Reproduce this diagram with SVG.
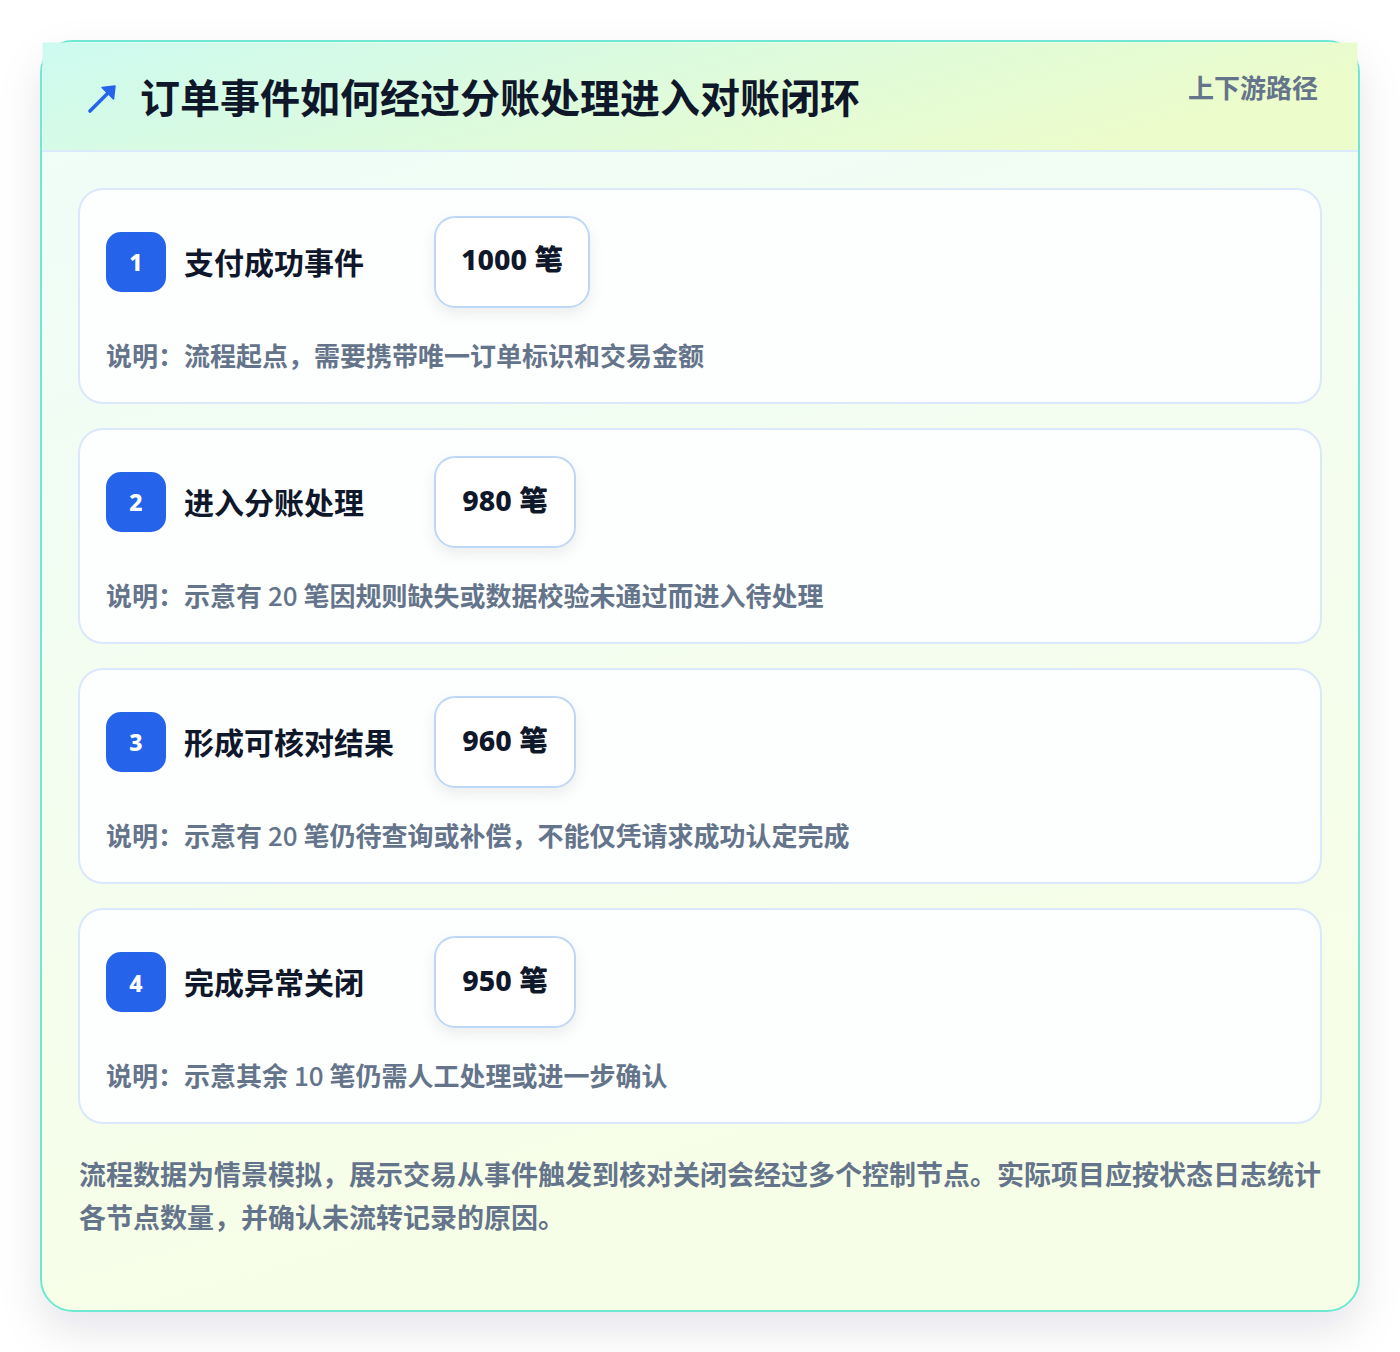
<svg xmlns="http://www.w3.org/2000/svg" width="1400" height="1352" viewBox="0 0 1400 1352">
<defs>
<linearGradient id="bodyG" x1="0" y1="0" x2="0.3" y2="1">
<stop offset="0" stop-color="#effdf9"/>
<stop offset="1" stop-color="#f7fee7"/>
</linearGradient>
<linearGradient id="headG" x1="0" y1="0" x2="1" y2="0.3">
<stop offset="0" stop-color="#cdfaf0"/>
<stop offset="1" stop-color="#ecfccb"/>
</linearGradient>
<filter id="outerSh" x="-10%" y="-10%" width="120%" height="125%">
<feDropShadow dx="0" dy="18" stdDeviation="20" flood-color="#0f172a" flood-opacity="0.10"/>
</filter>
<filter id="pillSh" x="-20%" y="-20%" width="140%" height="160%">
<feDropShadow dx="0" dy="6" stdDeviation="7" flood-color="#0f172a" flood-opacity="0.07"/>
</filter>
<style>
.card{fill:#fdfefe;stroke:#dbe8fb;stroke-width:2}
.badge{fill:#2563eb}
.bnum{font-family:"Noto Sans","Noto Sans CJK SC",sans-serif;font-weight:800;font-size:23px;fill:#ffffff;text-anchor:middle}
.title{font-family:"Noto Sans CJK SC",sans-serif;font-weight:700;font-size:30px;fill:#0f172a}
.pill{fill:#ffffff;stroke:#bfd7f7;stroke-width:2}
.ptxt{font-family:"Noto Sans","Noto Sans CJK SC",sans-serif;font-weight:800;font-size:28.5px;fill:#0f172a;text-anchor:middle}
.desc{font-family:"Noto Sans CJK SC",sans-serif;font-weight:700;font-size:26px;fill:#64748b}
.num{font-weight:500}
.foot{font-family:"Noto Sans CJK SC",sans-serif;font-weight:700;font-size:27px;fill:#64748b}
</style>
</defs>
<rect x="0" y="0" width="1400" height="1352" fill="#ffffff"/>
<g id="panel">
<rect x="41" y="41" width="1318" height="1270" rx="32" fill="url(#bodyG)" stroke="#6ee7d3" stroke-width="2" filter="url(#outerSh)"/>
<rect x="42.5" y="42.5" width="1315" height="108" fill="url(#headG)"/>
<line x1="42" y1="151" x2="1358" y2="151" stroke="#dbeafe" stroke-width="2"/>
<g id="icon">
<line x1="90" y1="111" x2="109" y2="92" stroke="#2563eb" stroke-width="3.6" stroke-linecap="round"/>
<path d="M115 86 L113.5 99 L102 87.5 Z" fill="#2563eb" stroke="#2563eb" stroke-width="1.5" stroke-linejoin="round"/>
</g>
<text x="140" y="113" font-family="Noto Sans CJK SC,sans-serif" font-weight="700" font-size="40" fill="#0f172a">订单事件如何经过分账处理进入对账闭环</text>
<text x="1318" y="98" text-anchor="end" font-family="Noto Sans CJK SC,sans-serif" font-weight="700" font-size="26" fill="#64748b">上下游路径</text>
</g>
<g id="connectors"></g>
<g id="step1">
<rect class="card" x="79" y="189" width="1242" height="214" rx="24"/>
<rect class="badge" x="106" y="232" width="60" height="60" rx="15"/>
<text class="bnum" x="136" y="271">1</text>
<text class="title" x="184" y="274">支付成功事件</text>
<rect class="pill" x="435" y="217" width="154" height="90" rx="20" filter="url(#pillSh)"/>
<text class="ptxt" x="512" y="270">1000 笔</text>
<text class="desc" x="106" y="366">说明：流程起点，需要携带唯一订单标识和交易金额</text>
</g>
<g id="step2">
<rect class="card" x="79" y="429" width="1242" height="214" rx="24"/>
<rect class="badge" x="106" y="472" width="60" height="60" rx="15"/>
<text class="bnum" x="136" y="511">2</text>
<text class="title" x="184" y="514">进入分账处理</text>
<rect class="pill" x="435" y="457" width="140" height="90" rx="20" filter="url(#pillSh)"/>
<text class="ptxt" x="505" y="511">980 笔</text>
<text class="desc" x="106" y="606">说明：示意有 <tspan class="num">20</tspan> 笔因规则缺失或数据校验未通过而进入待处理</text>
</g>
<g id="step3">
<rect class="card" x="79" y="669" width="1242" height="214" rx="24"/>
<rect class="badge" x="106" y="712" width="60" height="60" rx="15"/>
<text class="bnum" x="136" y="751">3</text>
<text class="title" x="184" y="754">形成可核对结果</text>
<rect class="pill" x="435" y="697" width="140" height="90" rx="20" filter="url(#pillSh)"/>
<text class="ptxt" x="505" y="751">960 笔</text>
<text class="desc" x="106" y="846">说明：示意有 <tspan class="num">20</tspan> 笔仍待查询或补偿，不能仅凭请求成功认定完成</text>
</g>
<g id="step4">
<rect class="card" x="79" y="909" width="1242" height="214" rx="24"/>
<rect class="badge" x="106" y="952" width="60" height="60" rx="15"/>
<text class="bnum" x="136" y="992">4</text>
<text class="title" x="184" y="994">完成异常关闭</text>
<rect class="pill" x="435" y="937" width="140" height="90" rx="20" filter="url(#pillSh)"/>
<text class="ptxt" x="505" y="991">950 笔</text>
<text class="desc" x="106" y="1086">说明：示意其余 <tspan class="num">10</tspan> 笔仍需人工处理或进一步确认</text>
</g>
<g id="footnote">
<text class="foot" x="79" y="1185">流程数据为情景模拟，展示交易从事件触发到核对关闭会经过多个控制节点。实际项目应按状态日志统计</text>
<text class="foot" x="79" y="1228">各节点数量，并确认未流转记录的原因。</text>
</g>
</svg>
